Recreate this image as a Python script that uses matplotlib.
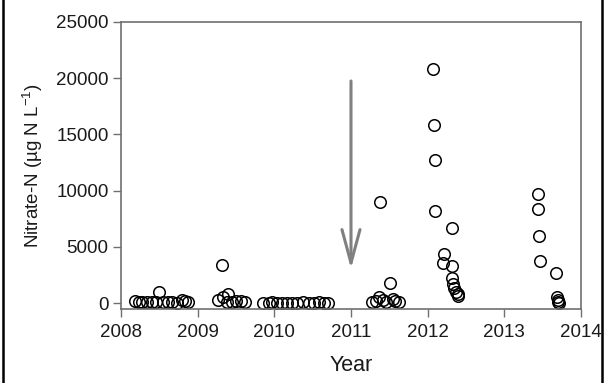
import matplotlib
matplotlib.use("Agg")
import matplotlib.pyplot as plt
from matplotlib.lines import Line2D

plt.rcParams["font.family"] = ["Liberation Sans", "DejaVu Sans"]

INK = "#1a1a1a"
SPINE = "#707070"
ARROW = "#808080"

# sampling dates (decimal years) and nitrate-N concentrations (ug N / L)
year_2008 = [2008.18, 2008.23, 2008.28, 2008.34, 2008.40, 2008.45, 2008.50,
             2008.55, 2008.61, 2008.67, 2008.73, 2008.79, 2008.84, 2008.87]
no3_2008 = [150, 100, 50, 80, 100, 60, 1000, 60, 120, 50, 30, 250, 200, 100]

year_2009 = [2009.27, 2009.32, 2009.33, 2009.38, 2009.40, 2009.45, 2009.50,
             2009.56, 2009.62]
no3_2009 = [300, 3400, 500, 100, 800, 50, 200, 150, 100]

year_2010 = [2009.85, 2009.93, 2009.97, 2010.03, 2010.10, 2010.17, 2010.23,
             2010.30, 2010.37, 2010.45, 2010.52, 2010.58, 2010.65, 2010.70]
no3_2010 = [0, 20, 50, 30, 40, 20, 40, 30, 50, 40, 30, 60, 40, 30]

year_2011 = [2011.27, 2011.32, 2011.36, 2011.38, 2011.42, 2011.46, 2011.51,
             2011.55, 2011.58, 2011.62]
no3_2011 = [100, 200, 500, 9000, 300, 100, 1800, 400, 150, 50]

year_2012 = [2012.07, 2012.08, 2012.09, 2012.10, 2012.21, 2012.20, 2012.32,
             2012.32, 2012.32, 2012.33, 2012.35, 2012.37, 2012.39, 2012.40]
no3_2012 = [20800, 15800, 12700, 8200, 4400, 3600, 6700, 3300, 2200, 1700,
            1300, 1000, 800, 600]

year_2013 = [2013.44, 2013.44, 2013.45, 2013.46, 2013.68, 2013.69, 2013.70,
             2013.70, 2013.71]
no3_2013 = [9700, 8400, 6000, 3700, 2700, 500, 250, 100, 0]

years = year_2008 + year_2009 + year_2010 + year_2011 + year_2012 + year_2013
nitrate = no3_2008 + no3_2009 + no3_2010 + no3_2011 + no3_2012 + no3_2013

x_ticks = [2008, 2009, 2010, 2011, 2012, 2013, 2014]
y_ticks = [0, 5000, 10000, 15000, 20000, 25000]

# arrow marking the change at 2011
arrow_x = 2011.0
arrow_top = 20000
arrow_tip = 2800

fig = plt.figure(figsize=(6.06, 3.83), dpi=100)
ax = fig.add_axes([0.1997, 0.1932, 0.759, 0.7494])

ax.plot(years, nitrate, linestyle="none", marker="o", markersize=8.3,
        markerfacecolor="none", markeredgecolor="black", markeredgewidth=1.1)

ax.annotate("", xy=(arrow_x, arrow_tip), xytext=(arrow_x, arrow_top),
            arrowprops=dict(arrowstyle="->,head_length=2.4,head_width=0.65",
                            color=ARROW, lw=2.2))

ax.set_xlim(2008, 2014)
ax.set_ylim(-530, 25000)
ax.set_xticks(x_ticks)
ax.set_yticks(y_ticks)
ax.set_xticklabels([str(t) for t in x_ticks], fontsize=13.5, color=INK)
ax.set_yticklabels([str(t) for t in y_ticks], fontsize=13.5, color=INK)
ax.tick_params(direction="out", length=6, width=1, color=SPINE, pad=3)
ax.tick_params(axis="x", pad=5)

for s in ax.spines.values():
    s.set_color(SPINE)
    s.set_linewidth(1.2)

ax.set_xlabel("Year", fontsize=15.5, color=INK, labelpad=10)
ax.set_ylabel("Nitrate-N (\u00b5g N L$^{\\mathregular{-1}}$)", fontsize=13.5,
              color=INK, labelpad=8)

# left and right frame lines of the original figure
fig.add_artist(Line2D([0.005, 0.005], [0, 1], color="black", lw=1.8,
                      transform=fig.transFigure))
fig.add_artist(Line2D([0.993, 0.993], [0, 1], color="black", lw=1.8,
                      transform=fig.transFigure))

fig.savefig("out.png", dpi=100, facecolor="white")
